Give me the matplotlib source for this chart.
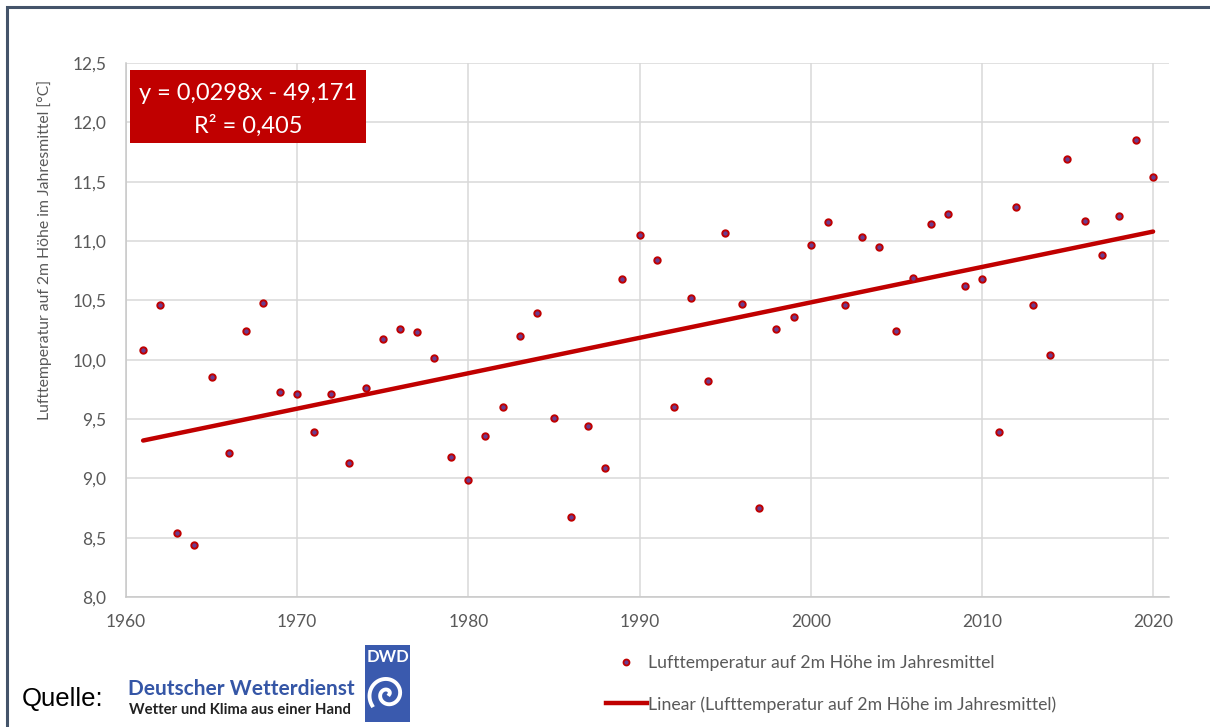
import matplotlib
matplotlib.use("Agg")
import matplotlib.pyplot as plt
from matplotlib.patches import Rectangle
from matplotlib.lines import Line2D
import numpy as np

# Jahresmittel der Lufttemperatur (2 m)
years = list(range(1961, 2021))
temps = [10.08, 10.46, 8.54, 8.44, 9.85, 9.21, 10.24, 10.48, 9.73, 9.71,
         9.39, 9.71, 9.13, 9.76, 10.17, 10.26, 10.23, 10.01, 9.18, 8.99,
         9.36, 9.60, 10.20, 10.39, 9.51, 8.67, 9.44, 9.09, 10.68, 11.05,
         10.84, 9.60, 10.52, 9.82, 11.07, 10.47, 8.75, 10.26, 10.36, 10.97,
         11.16, 10.46, 11.03, 10.95, 10.24, 10.69, 11.14, 11.23, 10.62, 10.68,
         9.39, 11.29, 10.46, 10.04, 11.69, 11.17, 10.88, 11.21, 11.85, 11.54]

xticks = [1960, 1970, 1980, 1990, 2000, 2010, 2020]
yticks = [8.0, 8.5, 9.0, 9.5, 10.0, 10.5, 11.0, 11.5, 12.0, 12.5]

series_label = "Lufttemperatur auf 2m Höhe im Jahresmittel"
trend_label = "Linear (Lufttemperatur auf 2m Höhe im Jahresmittel)"
eq_lines = ["y = 0,0298x - 49,171", "R² = 0,405"]

RED = "#C00000"
GREY = "#595959"
GRID = "#D9D9D9"

plt.rcParams["font.family"] = ["Lato", "DejaVu Sans"]

W, H = 1210, 727
fig = plt.figure(figsize=(W / 100, H / 100), dpi=100)

def fx(px):
    return px / W

def fy(py):
    return 1 - py / H

ax = fig.add_axes([fx(126), fy(597), fx(1169) - fx(126), fy(63) - fy(597)])

yrs = np.array(years)
tv = np.array(temps)
k, d = np.polyfit(yrs, tv, 1)

ax.plot(yrs, k * yrs + d, color=RED, lw=3.2, solid_capstyle="round", zorder=3)
ax.plot(yrs, tv, "o", ms=4.6, mfc="#6a3d8f", mec=RED, mew=1.4, zorder=4)

ax.set_xlim(1960, 2020.93)
ax.set_ylim(8.0, 12.5)
ax.set_xticks(xticks)
ax.set_yticks(yticks)
ax.set_yticklabels([f"{v:.1f}".replace(".", ",") for v in yticks])
ax.grid(True, color=GRID, lw=1.1)
ax.set_axisbelow(True)
for s in ["top", "right"]:
    ax.spines[s].set_visible(False)
for s in ["left", "bottom"]:
    ax.spines[s].set_color("#C8C8C8")
    ax.spines[s].set_linewidth(1.1)
ax.tick_params(axis="both", length=0, labelsize=12.5, colors=GREY)
ax.tick_params(axis="y", pad=14)
ax.tick_params(axis="x", pad=12)

# Gleichungs-Box
fig.add_artist(Rectangle((fx(130), fy(143)), fx(366) - fx(130), fy(70) - fy(143),
                         transform=fig.transFigure, fc=RED, ec="none", zorder=5))
fig.text(fx(248), fy(93), eq_lines[0], ha="center", va="center",
         fontsize=17, color="white", zorder=6)
fig.text(fx(248), fy(126), eq_lines[1], ha="center", va="center",
         fontsize=17, color="white", zorder=6)

fig.text(fx(45), fy(250), "Lufttemperatur auf 2m Höhe im Jahresmittel [°C]",
         rotation=90, ha="center", va="center", fontsize=11.3, color=GREY)

# Legende
h1 = Line2D([], [], ls="none", marker="o", ms=4.3, mfc="#6a3d8f", mec=RED, mew=1.3)
h2 = Line2D([], [], color=RED, lw=3.2)
fig.legend([h1, h2], [series_label, trend_label], loc="upper left",
           bbox_to_anchor=(fx(606), fy(655)), frameon=False, fontsize=12.7,
           labelcolor=GREY, handlelength=2.3, handletextpad=0.1, labelspacing=1.42,
           borderpad=0, borderaxespad=0)

# Quelle + Logo
fig.text(fx(22), fy(699), "Quelle:", fontsize=18.5, color="black",
         family="Liberation Sans", ha="left", va="center")
fig.text(fx(128), fy(689), "Deutscher Wetterdienst", fontsize=15, color="#3556A6",
         weight="bold", ha="left", va="center")
fig.text(fx(129), fy(710), "Wetter und Klima aus einer Hand", fontsize=10.7, color="#222222",
         weight="bold", ha="left", va="center")

lax = fig.add_axes([fx(365), fy(722), fx(410) - fx(365), fy(645) - fy(722)])
lax.set_xlim(0, 1)
lax.set_ylim(0, 1)
lax.set_facecolor("#3A5AAE")
for s in lax.spines.values():
    s.set_visible(False)
lax.set_xticks([])
lax.set_yticks([])
lax.text(0.5, 0.84, "DWD", ha="center", va="center", color="white",
         fontsize=12, weight="bold")
th = np.linspace(0, 3.2 * np.pi, 200)
r = 0.04 + 0.038 * th
lax.plot(0.5 + r * np.cos(th), 0.36 + r * np.sin(th) * 45 / 77, color="white", lw=2.8)

# Rahmen
fig.add_artist(Rectangle((fx(7), -0.1), 1.2, fy(7) + 0.1, transform=fig.transFigure,
                         fill=False, ec="#44546A", lw=2.2))

fig.savefig("out.png", dpi=100)
